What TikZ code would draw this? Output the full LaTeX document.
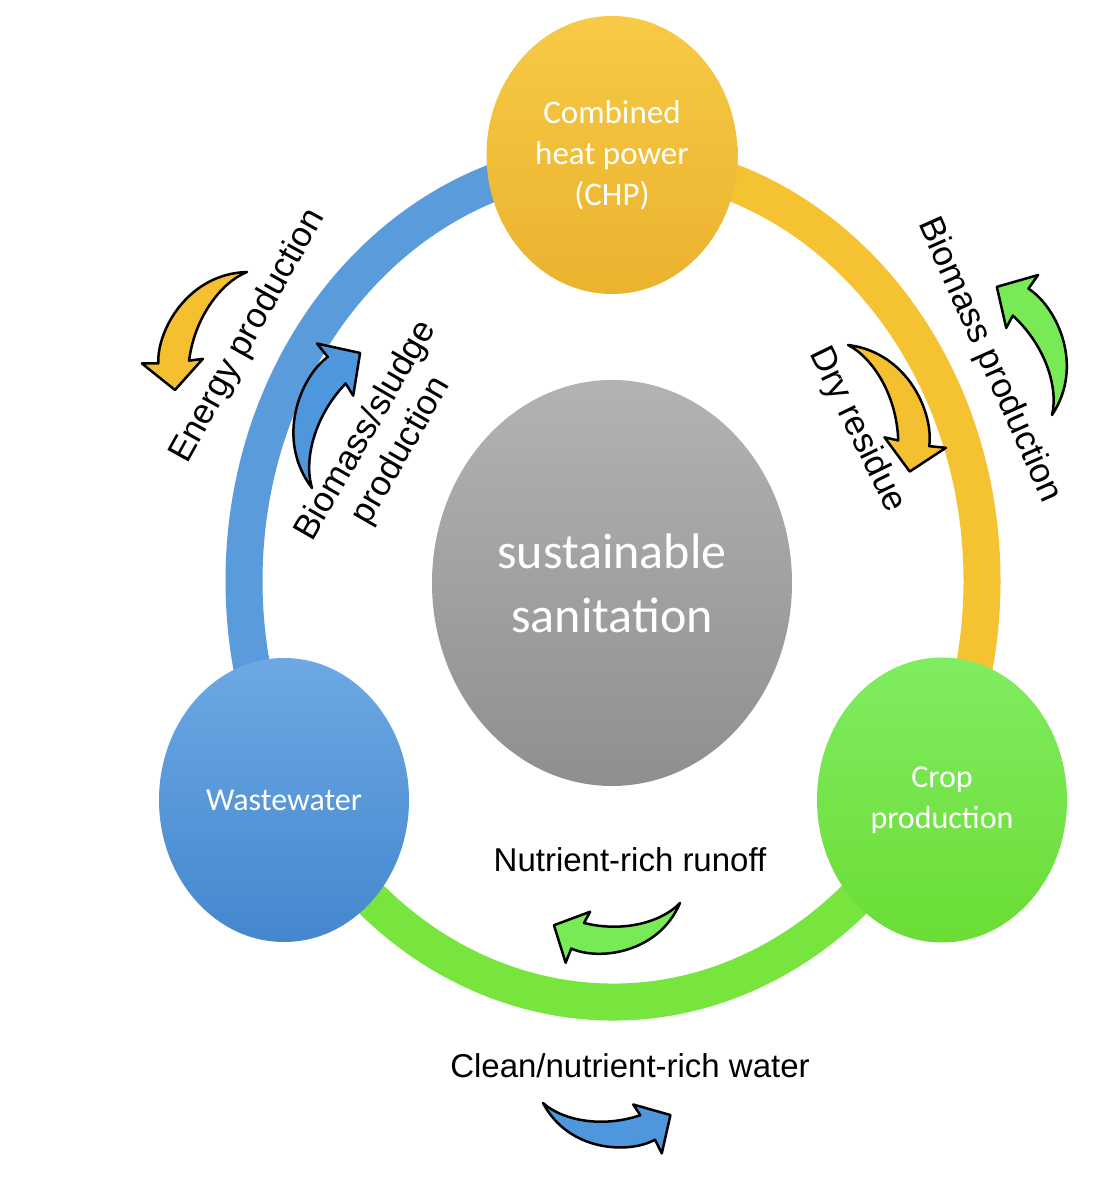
\documentclass[tikz,border=0pt]{standalone}
\usepackage{fontspec}
\usepackage{tikz}
\usetikzlibrary{positioning,calc,shapes.geometric}
\newfontfamily\calfont{Carlito}
\newfontfamily\labfont{Liberation Sans}

\definecolor{ringblue}{HTML}{5A9BDB}
\definecolor{ringyellow}{HTML}{F5C232}
\definecolor{ringgreen}{HTML}{77E53D}
\definecolor{arrblue}{HTML}{4F97DD}
\definecolor{arryellow}{HTML}{F4C030}
\definecolor{arrgreen}{HTML}{78EA55}
\definecolor{chptop}{HTML}{F7CA45}
\definecolor{chpbot}{HTML}{EBB22E}
\definecolor{wastetop}{HTML}{6CA9E4}
\definecolor{wastebot}{HTML}{4487CE}
\definecolor{croptop}{HTML}{80EC60}
\definecolor{cropbot}{HTML}{6ADD35}

\tikzset{
  ringarc/.style={line width=37pt},
  bubble/.style={ellipse, inner sep=0pt, text=white, align=center, font=\calfont\fontsize{33}{41}\selectfont},
  lbl/.style={text=black, align=center, font=\labfont\fontsize{33}{40}\selectfont},
  rotlbl/.style={text=black, align=center, font=\labfont\fontsize{35}{41}\selectfont},
  carrow/.pic={
    \path[pic actions, draw=black, line width=2.5pt, line join=round]
      (0,0) .. controls (20,-15) and (60,-20) .. (98,-3) -- (90,7) -- (128,0)
      -- (123,-39) -- (115,-26) .. controls (90,-43) and (30,-46) .. (0,0) -- cycle;
  }
}

\begin{document}
\begin{tikzpicture}[x=1pt,y=1pt]
		\useasboundingbox[fill=white] (0,0) rectangle (1096,1198);
		\coordinate (ringc) at (613,617);
		
		% ring
		\draw[ringarc, ringblue] (ringc) ++(90:369pt and 421pt) arc[start angle=90, end angle=210, x radius=369pt, y radius=421pt];
		\draw[ringarc, ringyellow] (ringc) ++(90:369pt and 421pt) arc[start angle=90, end angle=-30, x radius=369pt, y radius=421pt];
		\draw[ringarc, ringgreen] (ringc) ++(210:369pt and 421pt) arc[start angle=210, end angle=330, x radius=369pt, y radius=421pt];
		
		% bubbles
		\node[bubble, minimum width=251pt, minimum height=278pt, top color=chptop, bottom color=chpbot] (chp) at (612,1043) {Combined\\heat power\\(CHP)};
		\node[bubble, minimum width=360pt, minimum height=406pt, top color=black!30, bottom color=black!44, font=\calfont\fontsize{50}{64}\selectfont] (sanit) at (612,615) {sustainable\\sanitation};
		\node[bubble, minimum width=250pt, minimum height=284pt, top color=wastetop, bottom color=wastebot, font=\calfont\fontsize{32}{41}\selectfont] (waste) at (284,398) {Wastewater};
		\node[bubble, minimum width=250pt, minimum height=285pt, top color=croptop, bottom color=cropbot, font=\calfont\fontsize{32}{41}\selectfont] (crop) at (942,398) {Crop\\production};
		
		% labels
		\node[rotlbl, rotate=61] (lblEnergy) at (248,862) {Energy production};
		\node[rotlbl, rotate=60] (lblSludge) at (384,757) {Biomass/sludge\\production};
		\node[rotlbl, rotate=-66] (lblBiomass) at (989,838) {Biomass production};
		\node[rotlbl, rotate=-64] (lblDry) at (857,768) {Dry residue};
		\node[lbl] (lblRunoff) at (630,338) {Nutrient-rich runoff};
		\node[lbl] (lblWater) at (630,132) {Clean/nutrient-rich water};
		
		% curved arrows
		\pic[fill=arryellow, rotate=238.6, scale=1.08] at (247,926) {carrow};
		\pic[fill=arrblue, rotate=70.4, yscale=-1, scale=1.12] at (312,710) {carrow};
		\pic[fill=arryellow, rotate=-64, yscale=-1, scale=1.1] at (848,853) {carrow};
		\pic[fill=arrgreen, rotate=113.3, scale=1.09] at (1052,783) {carrow};
		\pic[fill=arrgreen, rotate=190, yscale=-1] at (680,295) {carrow};
		\pic[fill=arrblue, rotate=-5.4] at (543,95) {carrow};
	\end{tikzpicture}
\end{document}
